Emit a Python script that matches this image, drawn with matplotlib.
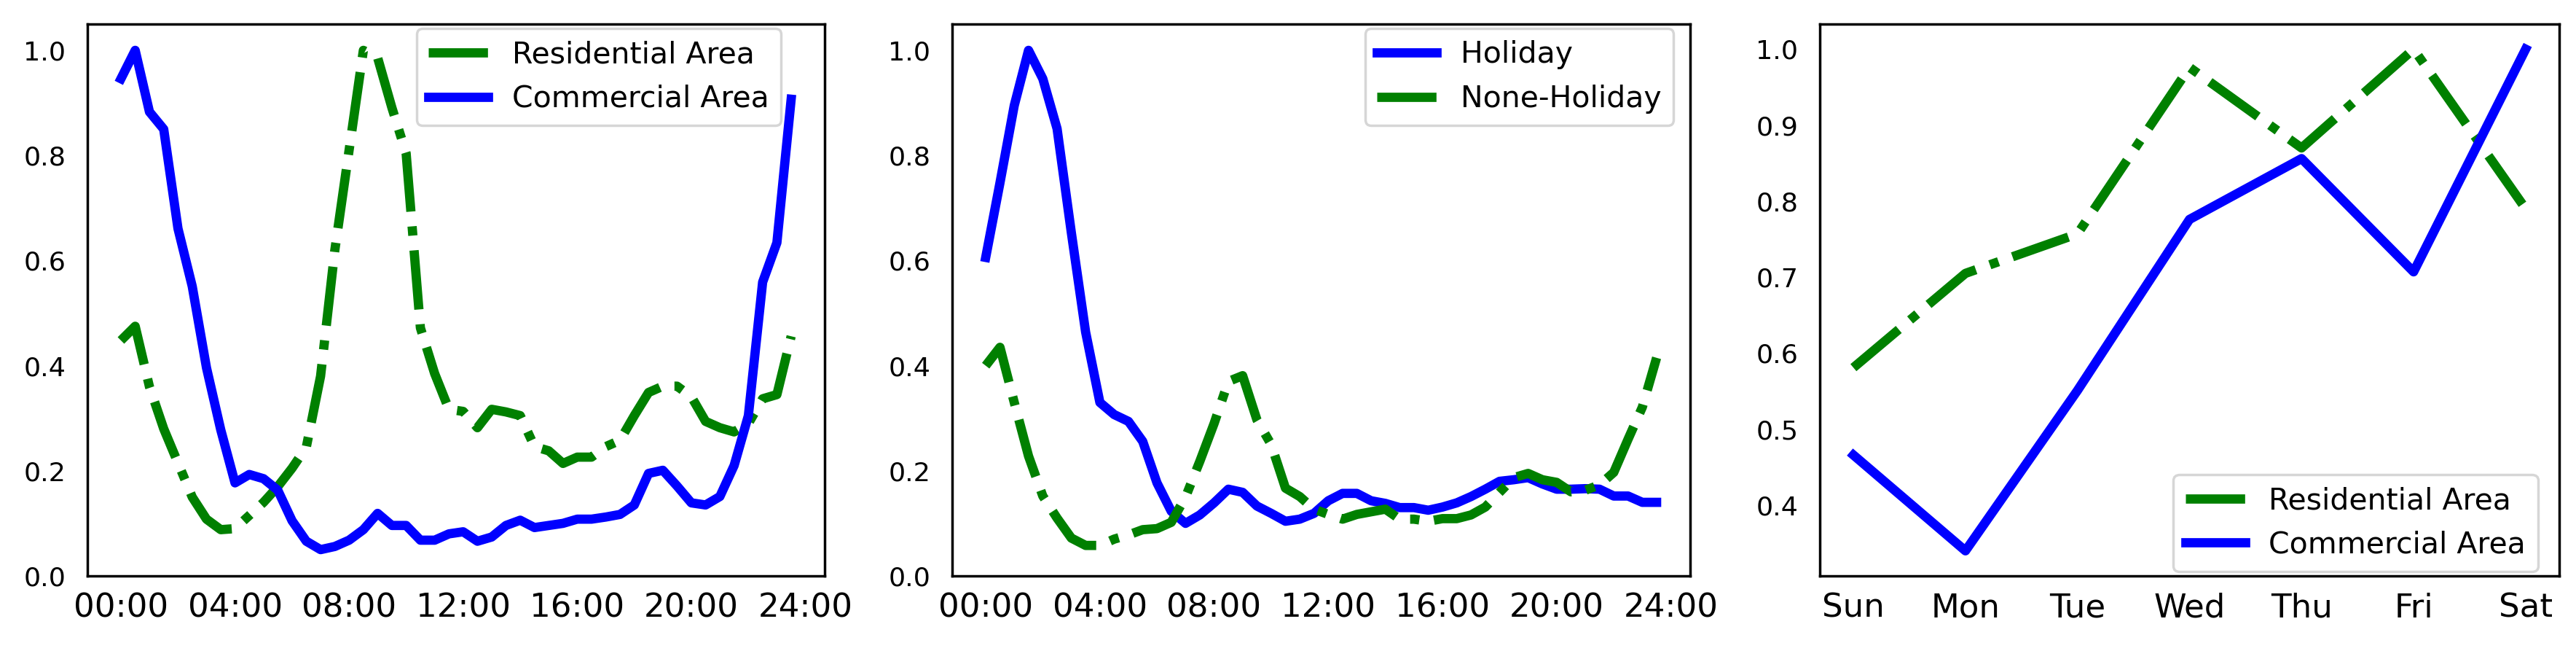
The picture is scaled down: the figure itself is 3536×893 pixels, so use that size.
import matplotlib
matplotlib.use("Agg")
import matplotlib.pyplot as plt

# ---------------- data ----------------
hour_ticks = [0, 8, 16, 24, 32, 40, 48]
hour_labels = ["00:00", "04:00", "08:00", "12:00", "16:00", "20:00", "24:00"]

residential_day = [0.448, 0.475, 0.36, 0.28, 0.215, 0.15, 0.108, 0.088, 0.09, 0.115,
                   0.14, 0.17, 0.205, 0.245, 0.38, 0.62, 0.81, 1.0, 0.986, 0.891,
                   0.804, 0.472, 0.385, 0.317, 0.313, 0.282, 0.317, 0.312, 0.305, 0.246,
                   0.238, 0.214, 0.226, 0.226, 0.246, 0.258, 0.305, 0.349, 0.361, 0.361,
                   0.341, 0.294, 0.282, 0.274, 0.29, 0.337, 0.345, 0.456]
commercial_day = [0.946, 1.0, 0.883, 0.85, 0.661, 0.551, 0.396, 0.278, 0.177, 0.193,
                  0.185, 0.163, 0.105, 0.066, 0.05, 0.056, 0.068, 0.088, 0.119, 0.096,
                  0.096, 0.068, 0.068, 0.08, 0.084, 0.066, 0.074, 0.096, 0.106, 0.092,
                  0.096, 0.1, 0.108, 0.108, 0.112, 0.117, 0.135, 0.195, 0.201, 0.171,
                  0.139, 0.135, 0.151, 0.21, 0.305, 0.559, 0.634, 0.907]

holiday = [0.606, 0.748, 0.895, 1.0, 0.946, 0.851, 0.653, 0.464, 0.33, 0.307,
           0.294, 0.256, 0.177, 0.123, 0.1, 0.116, 0.139, 0.165, 0.159, 0.133,
           0.119, 0.104, 0.108, 0.119, 0.143, 0.157, 0.157, 0.143, 0.138, 0.13,
           0.13, 0.125, 0.131, 0.139, 0.151, 0.165, 0.18, 0.183, 0.187, 0.175,
           0.165, 0.165, 0.166, 0.165, 0.152, 0.152, 0.14, 0.14]
none_holiday = [0.40, 0.435, 0.33, 0.228, 0.152, 0.11, 0.072, 0.058, 0.058, 0.07,
                0.078, 0.088, 0.09, 0.102, 0.15, 0.218, 0.29, 0.37, 0.381, 0.297,
                0.25, 0.167, 0.151, 0.127, 0.117, 0.108, 0.117, 0.122, 0.127, 0.108,
                0.108, 0.104, 0.109, 0.109, 0.116, 0.131, 0.159, 0.187, 0.195, 0.183,
                0.178, 0.16, 0.163, 0.173, 0.197, 0.26, 0.321, 0.415]

weekdays = ["Sun", "Mon", "Tue", "Wed", "Thu", "Fri", "Sat"]
residential_week = [0.581, 0.705, 0.757, 0.976, 0.870, 1.0, 0.790]
commercial_week = [0.466, 0.340, 0.551, 0.776, 0.856, 0.707, 1.0]

# ---------------- style ----------------
W, H, DPI = 3536, 893, 250
LW = 3.66
GREEN, BLUE = "green", "blue"
YTICK_FS, XTICK_FS, LEG_FS = 10.5, 13, 11.8

fig = plt.figure(figsize=(W / DPI, H / DPI), dpi=DPI)
fig.patch.set_facecolor("white")

def px_axes(left, right, top=33, bottom=790):
    return fig.add_axes([left / W, (H - bottom) / H, (right - left) / W, (bottom - top) / H])

def style(ax):
    for s in ax.spines.values():
        s.set_color("black")
        s.set_linewidth(1.0)
    ax.tick_params(axis="both", length=0)
    ax.tick_params(axis="y", labelsize=YTICK_FS, pad=8.5)
    ax.tick_params(axis="x", labelsize=XTICK_FS, pad=6.5)
    ax.set_facecolor("white")

def legend(ax, loc, anchor):
    leg = ax.legend(loc=loc, bbox_to_anchor=anchor, borderaxespad=0, fontsize=LEG_FS,
                    frameon=True, fancybox=True, framealpha=0.8, edgecolor="0.8")
    leg.get_frame().set_linewidth(1.0)
    return leg

x48 = list(range(len(residential_day)))

# Panel 1
ax1 = px_axes(120, 1132)
ax1.plot(x48, residential_day, color=GREEN, linestyle="-.", lw=LW, label="Residential Area")
ax1.plot(x48, commercial_day, color=BLUE, linestyle="-", lw=LW, label="Commercial Area")
ax1.set_xticks(hour_ticks)
ax1.set_xticklabels(hour_labels)
ax1.set_ylim(0, 1.05)
ax1.set_yticks([0.0, 0.2, 0.4, 0.6, 0.8, 1.0])
style(ax1)
legend(ax1, "upper right", (0.941, 0.992))

# Panel 2
ax2 = px_axes(1307, 2320)
ax2.plot(x48, holiday, color=BLUE, linestyle="-", lw=LW, label="Holiday")
ax2.plot(x48, none_holiday, color=GREEN, linestyle="-.", lw=LW, label="None-Holiday")
ax2.set_xticks(hour_ticks)
ax2.set_xticklabels(hour_labels)
ax2.set_ylim(0, 1.05)
ax2.set_yticks([0.0, 0.2, 0.4, 0.6, 0.8, 1.0])
style(ax2)
legend(ax2, "upper right", (0.977, 0.992))

# Panel 3
ax3 = px_axes(2498, 3513)
xw = list(range(len(weekdays)))
ax3.plot(xw, residential_week, color=GREEN, linestyle="-.", lw=LW, label="Residential Area")
ax3.plot(xw, commercial_week, color=BLUE, linestyle="-", lw=LW, label="Commercial Area")
ax3.set_xticks(xw)
ax3.set_xticklabels(weekdays)
ax3.set_yticks([0.4, 0.5, 0.6, 0.7, 0.8, 0.9, 1.0])
style(ax3)
legend(ax3, "lower right", (0.971, 0.008))

fig.savefig("out.png", dpi=DPI, facecolor="white")
